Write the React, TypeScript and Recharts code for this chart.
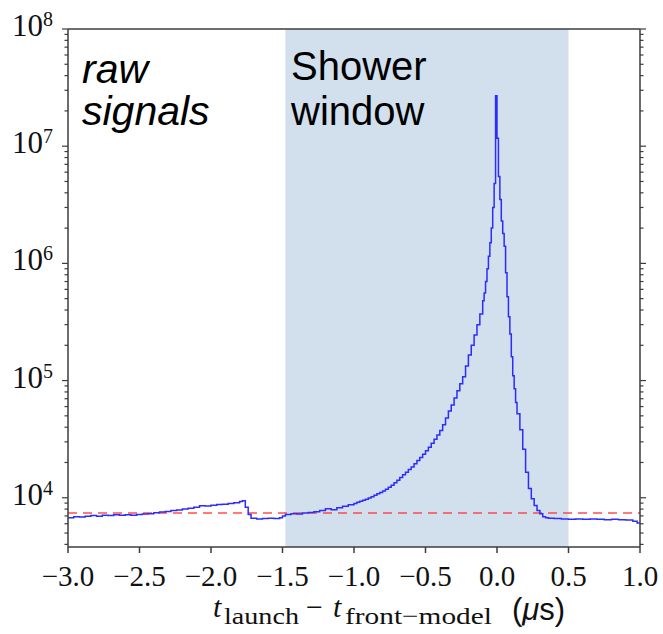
import { LineChart, Line, XAxis, YAxis, ReferenceArea, ReferenceLine } from 'recharts';

// bin start (µs) and counts
const times = [
  -3.0, -2.96, -2.92, -2.88, -2.84, -2.8, -2.76, -2.72, -2.68, -2.64, -2.6, -2.56, -2.52, -2.48,
  -2.44, -2.4, -2.36, -2.32, -2.28, -2.24, -2.2, -2.16, -2.12, -2.08, -2.04, -2.0, -1.96, -1.92,
  -1.88, -1.84, -1.8, -1.78, -1.76, -1.74, -1.72, -1.68, -1.64, -1.6, -1.56, -1.52, -1.5, -1.48,
  -1.44, -1.4, -1.36, -1.32, -1.28, -1.24, -1.2, -1.16, -1.12, -1.08, -1.04,
  -1.0, -0.98, -0.96, -0.94, -0.92, -0.9, -0.88, -0.86, -0.84, -0.82, -0.8, -0.78, -0.76, -0.74,
  -0.72, -0.7, -0.68, -0.66, -0.64, -0.62, -0.6, -0.58, -0.56, -0.54, -0.52, -0.5, -0.48, -0.46,
  -0.44, -0.42, -0.4, -0.38, -0.36, -0.34, -0.32, -0.3, -0.28, -0.26, -0.24, -0.22, -0.2, -0.18,
  -0.16, -0.14, -0.12, -0.1, -0.09, -0.08, -0.07, -0.06, -0.05, -0.04, -0.03, -0.02, -0.01,
  0.0, 0.01, 0.02, 0.03, 0.04, 0.05, 0.06, 0.07, 0.08, 0.09, 0.1, 0.11, 0.12, 0.13, 0.14, 0.16,
  0.18, 0.2, 0.22, 0.24, 0.26, 0.28, 0.3, 0.32, 0.34, 0.36, 0.4, 0.45, 0.5, 0.55, 0.6, 0.65, 0.7,
  0.75, 0.8, 0.85, 0.9, 0.95, 0.98, 1.0,
];
const counts = [
  6750, 6900, 6850, 6950, 7050, 6950, 7100, 7050, 7150, 7100, 7150, 7100, 7200, 7250,
  7300, 7450, 7550, 7650, 7800, 7850, 8000, 8150, 8300, 8550, 8500, 8650, 8750, 8800,
  8950, 9050, 9300, 9450, 8300, 7200, 6700, 6600, 6650, 6700, 6650, 6750, 7000, 7200,
  7300, 7250, 7400, 7500, 7600, 7800, 8050, 7900, 8200, 8450, 8700,
  8950, 9150, 9350, 9500, 9700, 9950, 10200, 10500, 10800, 11100, 11400, 11800, 12300, 12800,
  13400, 14100, 14900, 15700, 16500, 17400, 18300, 19500, 20800, 22100, 23500, 25200, 27000, 29200,
  31500, 34300, 37500, 42000, 48000, 55000, 62000, 71000, 82000, 94000, 108000, 133000, 165000, 200000,
  245000, 300000, 370000, 480000, 560000, 700000, 900000, 1150000, 1500000, 2000000, 3000000, 4800000, 27000000,
  11700000, 5500000, 3500000, 2300000, 1800000, 1400000, 830000, 520000, 350000, 250000, 160000, 110000, 85000, 65000, 52000, 38000,
  26000, 16500, 12000, 9800, 8600, 7800, 7300, 6900, 6750, 6700, 6650, 6600, 6550, 6600, 6550, 6600, 6550,
  6500, 6550, 6500, 6450, 6300, 6100, 6000,
];

const threshold = 7400;
const windowStart = -1.48;
const windowEnd = 0.5;

const xTicks = [-3.0, -2.5, -2.0, -1.5, -1.0, -0.5, 0.0, 0.5, 1.0];
const yMajor = [1e4, 1e5, 1e6, 1e7, 1e8];
const yMinorFactors = [2, 3, 4, 5, 6, 7, 8, 9];
const yDecades = [1e3, 1e4, 1e5, 1e6, 1e7];
const yMin = 3800;
const yMax = 1e8;

const yAll = [
  ...yMajor,
  ...yDecades.flatMap((d) => yMinorFactors.map((f) => f * d)).filter((v) => v >= yMin && v < yMax),
].sort((a, b) => a - b);

const data = times.map((t, i) => ({ t, n: counts[i] }));

const W = 663;
const H = 634;
const AXIS = '#3c3c3c';
const SERIF = '"Liberation Serif", "DejaVu Serif", serif';
const SANS = '"Liberation Sans", Arial, sans-serif';

const fmtX = (v: number) => (v < 0 ? '\u2212' : '') + Math.abs(v).toFixed(1);

const XTick = (p: any) => (
  <text
    x={p.x}
    y={p.y + 33}
    textAnchor="middle"
    style={{ fontFamily: SERIF, fontSize: 29 }}
    fill="#111"
  >
    {fmtX(p.payload.value)}
  </text>
);

const LeftTick = (p: any) => {
  const v = p.payload.value;
  const major = yMajor.includes(v);
  return (
    <g>
      <line x1={p.x} x2={p.x - (major ? 6 : 3.5)} y1={p.y} y2={p.y} stroke={AXIS} strokeWidth={1.2} />
      {major && (
        <text
          x={p.x - 15}
          y={p.y + 7}
          textAnchor="end"
          style={{ fontFamily: SERIF, fontSize: 31 }}
          fill="#111"
        >
          <tspan>10</tspan>
          <tspan dy={-10} style={{ fontSize: 20 }}>
            {Math.round(Math.log10(v))}
          </tspan>
        </text>
      )}
    </g>
  );
};

const RightTick = (p: any) => {
  const major = yMajor.includes(p.payload.value);
  return (
    <line x1={p.x} x2={p.x + (major ? 6 : 3.5)} y1={p.y} y2={p.y} stroke={AXIS} strokeWidth={1.2} />
  );
};

export default function App() {
  return (
    <div style={{ position: 'absolute', left: 0, top: 0, width: W, height: H, background: '#fff' }}>
      <LineChart width={W} height={H} data={data} margin={{ top: 0, right: 0, left: 0, bottom: 0 }}>
        <XAxis
          xAxisId="b"
          dataKey="t"
          type="number"
          domain={[-3, 1]}
          ticks={xTicks}
          interval={0}
          height={87}
          tickSize={6}
          tickMargin={0}
          allowDataOverflow
          stroke={AXIS}
          strokeWidth={1.5}
          tick={XTick}
        />
        <XAxis
          xAxisId="t"
          orientation="top"
          dataKey="t"
          type="number"
          domain={[-3, 1]}
          ticks={xTicks}
          interval={0}
          height={29}
          tickSize={6}
          allowDataOverflow
          stroke={AXIS}
          strokeWidth={1.5}
          tick={false}
        />
        <YAxis
          yAxisId="l"
          type="number"
          scale="log"
          domain={[yMin, yMax]}
          ticks={yAll}
          interval={0}
          width={68}
          tickSize={0}
          tickMargin={0}
          tickLine={false}
          allowDataOverflow
          stroke={AXIS}
          strokeWidth={1.5}
          tick={LeftTick}
        />
        <YAxis
          yAxisId="r"
          orientation="right"
          type="number"
          scale="log"
          domain={[yMin, yMax]}
          ticks={yAll}
          interval={0}
          width={23}
          tickSize={0}
          tickMargin={0}
          tickLine={false}
          allowDataOverflow
          stroke={AXIS}
          strokeWidth={1.5}
          tick={RightTick}
        />
        <ReferenceArea
          xAxisId="b"
          yAxisId="l"
          x1={windowStart}
          x2={windowEnd}
          fill="#d2dfed"
          fillOpacity={1}
          stroke="none"
        />
        <ReferenceLine
          xAxisId="b"
          yAxisId="l"
          y={threshold}
          stroke="#ff3030"
          strokeOpacity={0.85}
          strokeWidth={1.5}
          strokeDasharray="9 6"
        />
        <Line
          xAxisId="b"
          yAxisId="l"
          dataKey="n"
          type="stepAfter"
          stroke="#2c2cff"
          strokeWidth={1.5}
          dot={false}
          isAnimationActive={false}
        />
        <Line
          xAxisId="t"
          yAxisId="r"
          dataKey="n"
          stroke="none"
          dot={false}
          legendType="none"
          isAnimationActive={false}
        />
      </LineChart>
      <svg
        width={W}
        height={H}
        style={{ position: 'absolute', left: 0, top: 0, pointerEvents: 'none' }}
      >
        <text style={{ fontFamily: SANS, fontStyle: 'italic', fontSize: 41 }} fill="#000">
          <tspan x={82} y={83}>raw</tspan>
          <tspan x={82} y={125}>signals</tspan>
        </text>
        <text style={{ fontFamily: SANS, fontSize: 40 }} fill="#000">
          <tspan x={291} y={80}>Shower</tspan>
          <tspan x={291} y={125}>window</tspan>
        </text>
        <text fill="#111" style={{ fontFamily: SERIF, fontSize: 30 }}>
          <tspan x={213} y={617} fontStyle="italic">t</tspan>
          <tspan x={224} y={624} fontSize={24} textLength={75} lengthAdjust="spacingAndGlyphs">launch</tspan>
          <tspan x={306} y={617}>{'\u2212'}</tspan>
          <tspan x={333} y={617} fontStyle="italic">t</tspan>
          <tspan x={345} y={624} fontSize={24} textLength={147} lengthAdjust="spacingAndGlyphs">front{'\u2212'}model</tspan>
          <tspan x={512} y={620} fontFamily={SANS} fontSize={31}>(</tspan>
          <tspan fontFamily={SANS} fontSize={31} fontStyle="italic">{'\u03bc'}</tspan>
          <tspan fontFamily={SANS} fontSize={31}>s)</tspan>
        </text>
      </svg>
    </div>
  );
}
